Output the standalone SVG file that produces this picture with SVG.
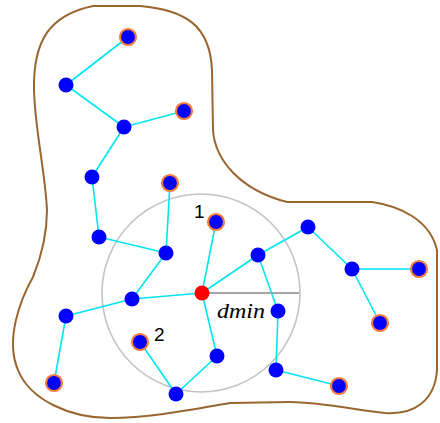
<svg xmlns="http://www.w3.org/2000/svg" width="440" height="423" viewBox="0 0 440 423">
<style>
.edge{stroke:#00e6f0;stroke-width:1.6;fill:none}
.n{fill:#0000ff}
.e{fill:#0000ff;stroke:#f47c3c;stroke-width:2.2}
.r{fill:#ff0000}
.lbl{font-family:"Liberation Sans",Arial,sans-serif;font-size:19px;fill:#000}
</style>
<rect width="440" height="423" fill="#fff"/>
<path id="boundary" d="M47,210 C45,170 35,130 34,90 C33,40 50,15 93,6 L140,6 C185,10 210,25 212,70 L213,130 C215,160 240,190 287,202 L372,202 C400,206 430,220 437,250 L437,370 C435,400 415,415 385,413 C355,410 320,402 290,402 L230,403 C190,410 150,418 110,418 C70,418 30,400 18,370 C5,340 20,300 33,277 C42,255 47,235 47,210 Z" fill="none" stroke="#9a6630" stroke-width="2"/>
<circle id="range" cx="201" cy="293" r="99" fill="none" stroke="#c4c4c4" stroke-width="1.6"/>
<line x1="202" y1="293" x2="299" y2="293" stroke="#888" stroke-width="1.6"/>
<g id="connectors">
<line class="edge" x1="128" y1="37" x2="66" y2="85"/>
<line class="edge" x1="66" y1="85" x2="124" y2="127"/>
<line class="edge" x1="124" y1="127" x2="184" y2="111"/>
<line class="edge" x1="124" y1="127" x2="92" y2="177"/>
<line class="edge" x1="92" y1="177" x2="99" y2="237"/>
<line class="edge" x1="99" y1="237" x2="166" y2="253"/>
<line class="edge" x1="170" y1="183" x2="166" y2="253"/>
<line class="edge" x1="166" y1="253" x2="132" y2="299"/>
<line class="edge" x1="132" y1="299" x2="202" y2="293"/>
<line class="edge" x1="132" y1="299" x2="66" y2="316"/>
<line class="edge" x1="66" y1="316" x2="54" y2="383"/>
<line class="edge" x1="202" y1="293" x2="216" y2="222"/>
<line class="edge" x1="202" y1="293" x2="258" y2="255"/>
<line class="edge" x1="258" y1="255" x2="308" y2="227"/>
<line class="edge" x1="258" y1="255" x2="278" y2="311"/>
<line class="edge" x1="278" y1="311" x2="276" y2="370"/>
<line class="edge" x1="276" y1="370" x2="339" y2="386"/>
<line class="edge" x1="308" y1="227" x2="352" y2="269"/>
<line class="edge" x1="352" y1="269" x2="419" y2="269"/>
<line class="edge" x1="352" y1="269" x2="380" y2="323"/>
<line class="edge" x1="202" y1="293" x2="217" y2="356"/>
<line class="edge" x1="217" y1="356" x2="176" y2="394"/>
<line class="edge" x1="176" y1="394" x2="140" y2="342"/>
</g>
<g id="n1"><circle class="e" cx="128" cy="37" r="8"/></g>
<g id="n2"><circle class="n" cx="66" cy="85" r="7.5"/></g>
<g id="n3"><circle class="n" cx="124" cy="127" r="7.5"/></g>
<g id="n4"><circle class="e" cx="184" cy="111" r="8"/></g>
<g id="n5"><circle class="n" cx="92" cy="177" r="7.5"/></g>
<g id="n6"><circle class="e" cx="170" cy="183" r="8"/></g>
<g id="n7"><circle class="n" cx="99" cy="237" r="7.5"/></g>
<g id="n8"><circle class="n" cx="166" cy="253" r="7.5"/></g>
<g id="n9"><circle class="e" cx="216" cy="222" r="8"/><text class="lbl" x="194" y="218">1</text></g>
<g id="n10"><circle class="n" cx="132" cy="299" r="7.5"/></g>
<g id="n11"><circle class="n" cx="66" cy="316" r="7.5"/></g>
<g id="n12"><circle class="e" cx="54" cy="383" r="8"/></g>
<g id="n13"><circle class="e" cx="140" cy="342" r="8"/><text class="lbl" x="154" y="341">2</text></g>
<g id="center"><circle class="r" cx="202" cy="293" r="7.5"/><text x="217" y="318" font-family="'Liberation Serif',serif" font-style="italic" font-size="20" textLength="48" lengthAdjust="spacingAndGlyphs">dmin</text></g>
<g id="n14"><circle class="n" cx="217" cy="356" r="7.5"/></g>
<g id="n15"><circle class="n" cx="176" cy="394" r="7.5"/></g>
<g id="n16"><circle class="n" cx="258" cy="255" r="7.5"/></g>
<g id="n17"><circle class="n" cx="308" cy="227" r="7.5"/></g>
<g id="n18"><circle class="n" cx="352" cy="269" r="7.5"/></g>
<g id="n19"><circle class="e" cx="419" cy="269" r="8"/></g>
<g id="n20"><circle class="e" cx="380" cy="323" r="8"/></g>
<g id="n21"><circle class="n" cx="278" cy="311" r="7.5"/></g>
<g id="n22"><circle class="n" cx="276" cy="370" r="7.5"/></g>
<g id="n23"><circle class="e" cx="339" cy="386" r="8"/></g>
</svg>
